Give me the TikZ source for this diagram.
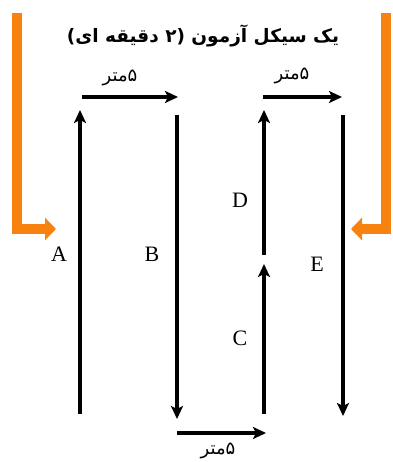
\documentclass[tikz,border=0pt]{standalone}
\usepackage{fontspec}
\setmainfont{Liberation Serif}
\newfontfamily\arabicfont[Script=Arabic]{DejaVu Sans}
\TeXXeTstate=1
\usetikzlibrary{arrows.meta}
\definecolor{orng}{HTML}{F7820F}
\begin{document}
\begin{tikzpicture}[x=1pt,y=-1pt,
  blk/.style={line width=3.2pt,-{Stealth[length=13pt,width=12pt,inset=3pt]}},
  org/.style={orng,line width=10.5pt,-{Triangle[length=11pt,width=22pt]}},
  lbl/.style={font=\fontsize{22}{22}\selectfont},
  meter/.style={font=\arabicfont\fontsize{18}{18}\selectfont},
  ttl/.style={font=\arabicfont\bfseries\fontsize{18.5}{18.5}\selectfont}]
\useasboundingbox[fill=white] (0,0) rectangle (392,462);
% title
\node[ttl] (title) at (203,36) {\beginR یک سیکل آزمون (۲ دقیقه ای)\endR};
% orange feed arrows
\coordinate (lo1) at (17,13);
\coordinate (lo2) at (17,229);
\coordinate (lo3) at (56,229);
\coordinate (ro1) at (386,13);
\coordinate (ro2) at (386,229);
\coordinate (ro3) at (351,229);
\draw[org] (lo1) -- (lo2) -- (lo3);
\draw[org] (ro1) -- (ro2) -- (ro3);
% vertical arrows
\coordinate (a0) at (80,414);
\coordinate (a1) at (80,110);
\coordinate (b0) at (177,115);
\coordinate (b1) at (177,419);
\coordinate (c0) at (264,414);
\coordinate (c1) at (264,264);
\coordinate (d0) at (264,255);
\coordinate (d1) at (264,110);
\coordinate (e0) at (343,115);
\coordinate (e1) at (343,416);
\draw[blk] (a0) -- (a1);
\draw[blk] (b0) -- (b1);
\draw[blk] (c0) -- (c1);
\draw[blk] (d0) -- (d1);
\draw[blk] (e0) -- (e1);
% horizontal arrows
\coordinate (h1a) at (82,97);
\coordinate (h1b) at (178,97);
\coordinate (h2a) at (263,97);
\coordinate (h2b) at (342,97);
\coordinate (h3a) at (177,433);
\coordinate (h3b) at (266,433);
\draw[blk] (h1a) -- (h1b);
\draw[blk] (h2a) -- (h2b);
\draw[blk] (h3a) -- (h3b);
% labels
\node[meter] (m1) at (120,78) {\beginR ۵متر\endR};
\node[meter] (m2) at (292,76) {\beginR ۵متر\endR};
\node[meter] (m3) at (218,451) {\beginR ۵متر\endR};
\node[lbl] (A) at (59,254) {A};
\node[lbl] (B) at (152,254) {B};
\node[lbl] (C) at (240,338) {C};
\node[lbl] (D) at (240,200) {D};
\node[lbl] (E) at (317,264) {E};
\end{tikzpicture}
\end{document}
